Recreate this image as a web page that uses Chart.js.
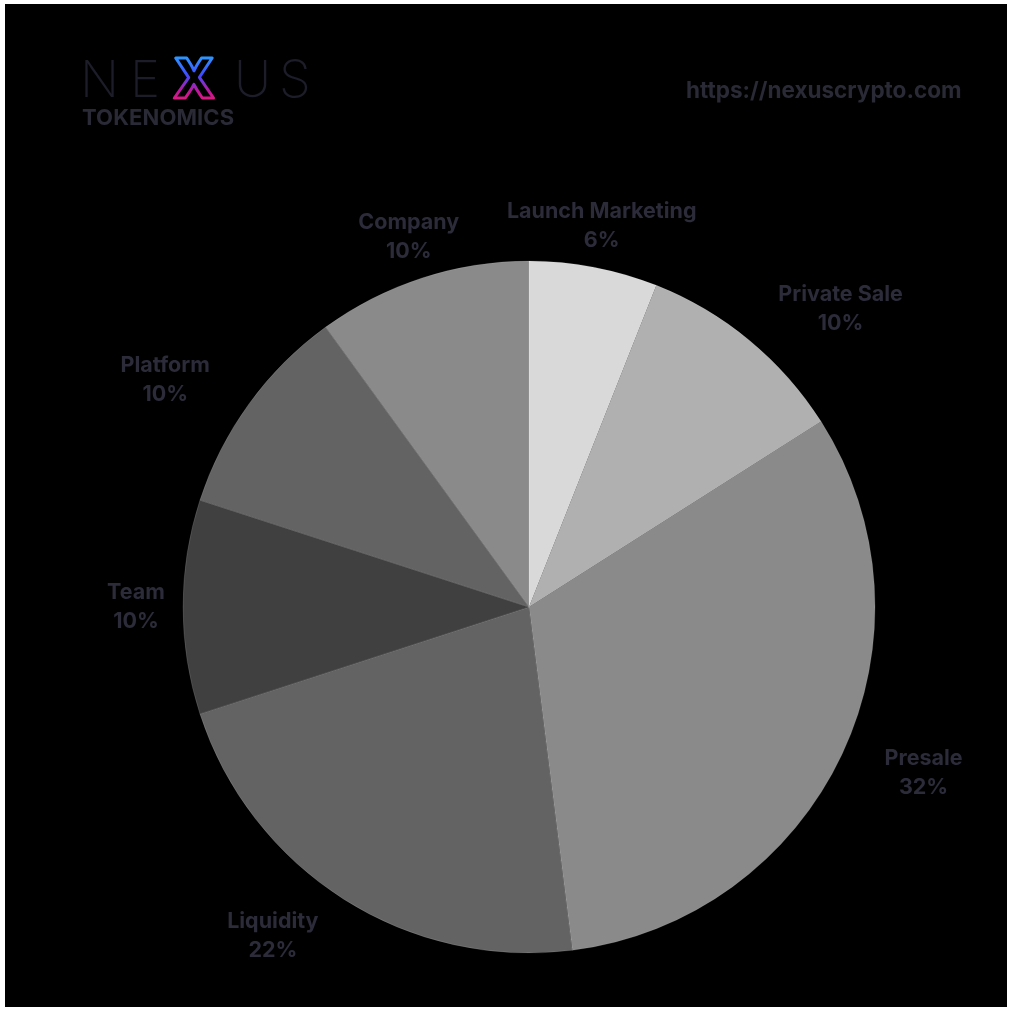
<!DOCTYPE html>
<html>
<head>
<title>NEXUS Tokenomics</title>
<meta charset="UTF-8">
<script src="https://cdn.jsdelivr.net/npm/chart.js@4.4.0/dist/chart.umd.min.js"></script>
<style>
 body{ margin:0; background:#fff; width:1010px; height:1009px; overflow:hidden; font-family:Inter, "Noto Sans", sans-serif; }
 .board{ position:absolute; left:5px; top:4px; width:1002px; height:1003px; background:#000; }
 #chartBox{ position:absolute; left:0; top:0; width:1010px; height:1009px; }
 .logo{ position:absolute; left:80px; top:52px; }
 .tok{ position:absolute; left:82px; top:104px; font-size:22px; font-weight:700; color:#2a2a37; letter-spacing:0.1px; }
 .url{ position:absolute; left:686px; top:76px; font-size:22.5px; font-weight:700; color:#2a2a36; }
</style>
</head>
<body>

<div class="board"></div>
<div id="chartBox"><canvas id="canvas" width="1010" height="1009"></canvas></div>

<div class="logo">
  <svg width="240" height="54" viewBox="0 0 240 54">
    <defs>
      <linearGradient id="xg" x1="0" y1="0" x2="0" y2="1">
        <stop offset="0" stop-color="#25c8ff"/>
        <stop offset="0.45" stop-color="#3d4cff"/>
        <stop offset="0.7" stop-color="#c0169a"/>
        <stop offset="1" stop-color="#ff1f55"/>
      </linearGradient>
    </defs>
    <text x="0" y="45" font-family="Inter, sans-serif" font-size="51" font-weight="200" fill="#1d1d2a">N</text>
    <text x="50" y="45" font-family="Inter, sans-serif" font-size="51" font-weight="200" fill="#1d1d2a">E</text>
    <text x="93" y="46" font-family="Inter, sans-serif" font-size="55" font-weight="800" fill="none" stroke="url(#xg)" stroke-width="3" stroke-linejoin="round">X</text>
    <text x="154" y="45" font-family="Inter, sans-serif" font-size="51" font-weight="200" fill="#1d1d2a">U</text>
    <text x="199" y="45" font-family="Inter, sans-serif" font-size="51" font-weight="200" fill="#1d1d2a">S</text>
  </svg>
</div>
<div class="tok">TOKENOMICS</div>
<div class="url">https://nexuscrypto.com</div>

<script>

// data, clockwise from 12 o'clock
var labels = ["Launch Marketing", "Private Sale", "Presale", "Liquidity", "Team", "Platform", "Company"];
var shares = [6, 10, 32, 22, 10, 10, 10];
var sliceColors = ["#d9d9d9", "#b0b0b0", "#8a8a8a", "#636363", "#404040", "#636363", "#8a8a8a"];

// label distance past the rim (px) and angle nudge (deg)
var labelExtra = [42, 85, 82, 71, 47, 83, 43];
var labelNudge = [0, 6.7, -2.4, 5.5, 0, -4, 0];

var outsideLabels = {
    id: 'outsideLabels',
    afterDatasetsDraw: function(chart){
        var ctx = chart.ctx;
        var arcs = chart.getDatasetMeta(0).data;
        ctx.save();
        ctx.fillStyle = '#2c2b3a';
        ctx.font = '700 21.5px Inter, "Noto Sans", sans-serif';
        ctx.textAlign = 'center';
        ctx.textBaseline = 'middle';
        for (var i = 0; i < arcs.length; i++){
            var a = arcs[i].getProps(['x','y','startAngle','endAngle','outerRadius'], true);
            var mid = (a.startAngle + a.endAngle) / 2 + labelNudge[i] * Math.PI / 180;
            var d = a.outerRadius + labelExtra[i];
            var cx = a.x + Math.cos(mid) * d;
            var cy = a.y + Math.sin(mid) * d;
            ctx.fillText(labels[i], cx, cy - 14.5);
            ctx.fillText(shares[i] + '%', cx, cy + 14.5);
        }
        ctx.restore();
    }
};

var ctx = document.getElementById("canvas").getContext("2d");
window.myPie = new Chart(ctx, {
    type: 'pie',
    data: {
        labels: labels,
        datasets: [{
            data: shares,
            backgroundColor: sliceColors,
            borderColor: 'rgba(255,255,255,0.12)',
            borderWidth: 1,
            hoverOffset: 0
        }]
    },
    options: {
        responsive: false,
        animation: false,
        radius: 346,
        layout: { padding: { left: 60, right: 12, top: 221, bottom: 16 } },
        plugins: {
            legend: { display: false },
            tooltip: { enabled: false }
        }
    },
    plugins: [outsideLabels]
});

</script>
</body>
</html>
